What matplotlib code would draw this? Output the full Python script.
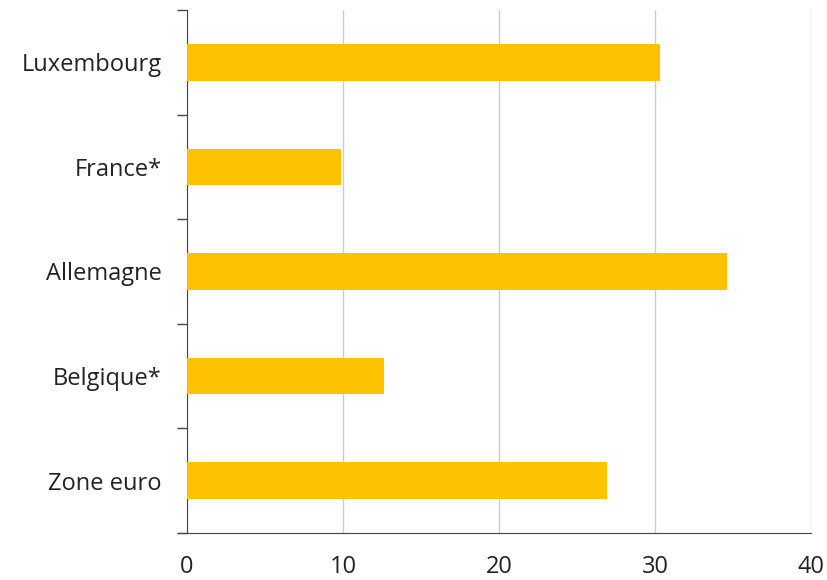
import matplotlib
matplotlib.use('Agg')
import matplotlib.pyplot as plt
import numpy as np

# Données (de bas en haut)
pays = ['Zone euro', 'Belgique*', 'Allemagne', 'France*', 'Luxembourg']
valeurs = [26.9, 12.6, 34.6, 9.9, 30.3]

plt.rcParams['font.family'] = ['Open Sans', 'DejaVu Sans']

fig = plt.figure(figsize=(8.28, 5.8), dpi=100)
ax = fig.add_axes([0.2258, 0.081, 0.7537, 0.9018])

y = np.arange(len(pays))
ax.barh(y, valeurs, height=0.35, color='#FDC300', zorder=3)

ax.set_xlim(0, 40)
ax.set_ylim(-0.5, len(pays) - 0.5)
ax.set_xticks([0, 10, 20, 30, 40])
ax.set_yticks(y)
ax.set_yticklabels(pays)
ax.set_yticks(np.arange(-0.5, len(pays), 1), minor=True)

ax.tick_params(axis='x', length=0, pad=16, labelsize=17, colors='#222222')
ax.tick_params(axis='y', which='major', length=0, pad=18, labelsize=17, colors='#222222')
ax.tick_params(axis='y', which='minor', length=7, width=1, color='#444444')

ax.grid(axis='x', color='#cccccc', linewidth=1, zorder=0)
ax.spines['top'].set_visible(False)
ax.spines['right'].set_visible(False)
ax.spines['left'].set_color('#444444')
ax.spines['bottom'].set_color('#444444')
ax.spines['bottom'].set_bounds(-0.55, 40)

fig.savefig('out.png', dpi=100)
